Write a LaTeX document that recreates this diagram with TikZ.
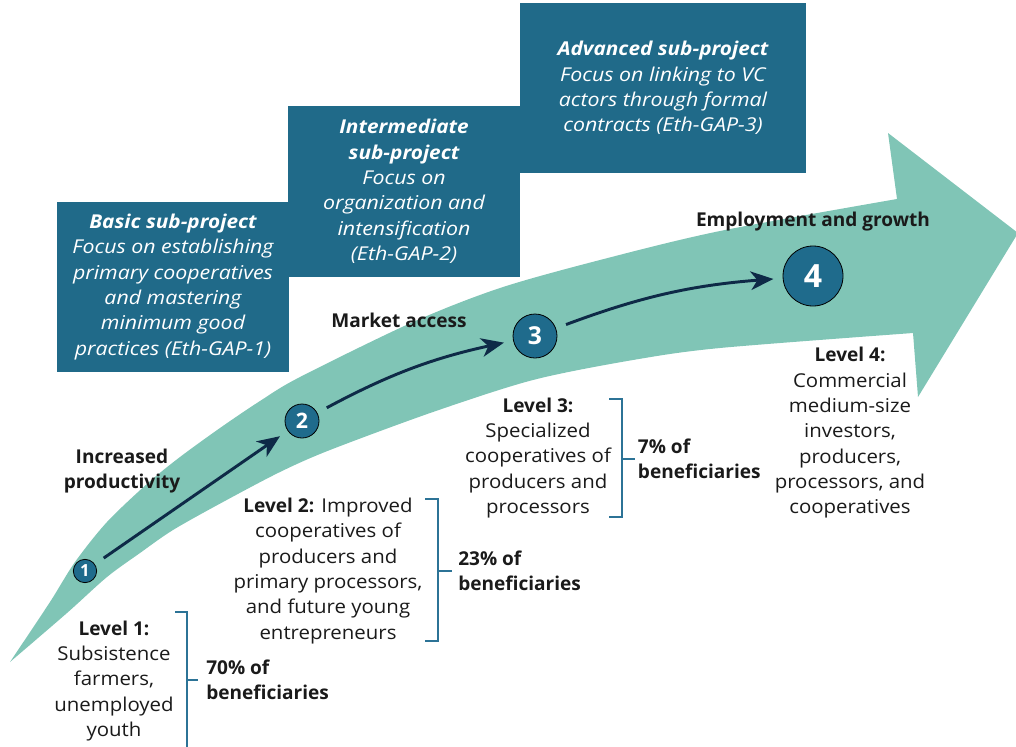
\documentclass[tikz,border=0pt]{standalone}
\usepackage{fontspec}
\setmainfont{Open Sans}[
    UprightFeatures={FakeStretch=1.07},
    ItalicFeatures={FakeStretch=1.12},
    BoldItalicFeatures={FakeStretch=1.09}]
\usetikzlibrary{arrows.meta, positioning}
\definecolor{bandteal}{HTML}{80C5B6}
\definecolor{boxblue}{HTML}{206A89}
\definecolor{stepblue}{HTML}{1F6B8C}
\definecolor{navy}{HTML}{0E2A47}
\definecolor{bracketblue}{HTML}{2C7396}
\definecolor{inkgray}{HTML}{1A1A1A}
\newcommand{\bodyfont}{\fontsize{14.3}{19}\selectfont}

\begin{document}
\begin{tikzpicture}[
    x=0.75pt, y=-0.75pt,
    subbox/.style={fill=boxblue, text=white, align=center, font=\bodyfont\itshape, inner sep=0pt},
    stepnode/.style={circle, draw=black, line width=0.6pt, fill=stepblue, text=white, inner sep=0pt},
    steparrow/.style={-{Stealth[length=17pt, width=14pt, inset=5pt]}, navy, line width=2.2pt, shorten <=8pt, shorten >=7pt},
    leveltext/.style={align=center, font=\bodyfont, text=inkgray, inner sep=0pt},
    pcttext/.style={align=left, font=\bodyfont\bfseries, text=inkgray, inner sep=0pt},
    stagelabel/.style={align=center, font=\bodyfont\bfseries, text=inkgray, inner sep=0pt},
    bracket/.style={bracketblue, line width=2.2pt},
]
    \useasboundingbox (0,0) rectangle (1016,746);

    % Curved band with arrow head
    \fill[bandteal] plot[smooth] coordinates {(10,662) (50,602) (75,562) (107,522) (148,483) (180,457) (220,428) (260,401) (300,377) (413,322) (500,288) (600,260) (720,231) (897,199)}
        -- (888,133) -- (1018,233) -- (918,397) -- (913,333)
        -- plot[smooth] coordinates {(913,333) (720,348) (633,360) (533,380) (433,412) (330,450) (280,472) (223,502) (173,530) (140,553) (107,577) (67,613) (10,662)} -- cycle;

    % Sub-project boxes
    \node[subbox, minimum width=174pt, minimum height=127.5pt] (basic) at (173,287)
        {\textbf{Basic sub-project}\\Focus on establishing\\primary cooperatives\\and mastering\\minimum good\\practices (Eth-GAP-1)};
    \node[subbox, minimum width=174pt, minimum height=128pt] (inter) at (404,191.5)
        {\textbf{Intermediate}\\\textbf{sub-project}\\Focus on\\organization and\\intensification\\(Eth-GAP-2)};
    \node[subbox, minimum width=214.5pt, minimum height=127.5pt] (adv) at (663,88)
        {\textbf{Advanced sub-project}\\Focus on linking to VC\\actors through formal\\contracts (Eth-GAP-3)};

    % Steps
    \node[stepnode, minimum size=17.5pt, font=\fontsize{12.5}{12.5}\selectfont\bfseries] (s1) at (85,571) {1};
    \node[stepnode, minimum size=25.5pt, font=\fontsize{16}{16}\selectfont\bfseries] (s2) at (302,421) {2};
    \node[stepnode, minimum size=33pt, font=\fontsize{18.5}{18.5}\selectfont\bfseries] (s3) at (535,336) {3};
    \node[stepnode, minimum size=45pt, font=\fontsize{24}{24}\selectfont\bfseries] (s4) at (813,276) {4};

    \draw[steparrow] (s1) -- (s2);
    \draw[steparrow] (s2) to[bend left=8] (s3);
    \draw[steparrow] (s3) to[bend left=8] (s4);

    % Stage labels
    \node[stagelabel] (prodlbl) at (122,471) {Increased\\productivity};
    \node[stagelabel] (marketlbl) at (399,320) {Market access};
    \node[stagelabel] (growthlbl) at (813,222) {Employment and growth};

    % Levels
    \node[leveltext] (lvl1) at (114,681) {\textbf{Level 1:}\\Subsistence\\farmers,\\unemployed\\youth};
    \node[leveltext] (lvl2) at (328,571) {\textbf{Level 2:} Improved\\cooperatives of\\producers and\\primary processors,\\and future young\\entrepreneurs};
    \node[leveltext] (lvl3) at (538,458) {\textbf{Level 3:}\\Specialized\\cooperatives of\\producers and\\processors};
    \node[leveltext] (lvl4) at (850,433) {\textbf{Level 4:}\\Commercial\\medium-size\\investors,\\producers,\\processors, and\\cooperatives};

    % Brackets
    \draw[bracket] (175,612) -- (187,612) -- (187,750);
    \draw[bracket] (187,680) -- (198,680) coordinate (b1);
    \draw[bracket] (425,499) -- (438,499) -- (438,641) -- (425,641);
    \draw[bracket] (438,571) -- (452,571) coordinate (b2);
    \draw[bracket] (609,399) -- (622,399) -- (622,517) -- (609,517);
    \draw[bracket] (622,459) -- (635,459) coordinate (b3);

    \node[pcttext, right=6pt of b1] (pct1) {70\% of\\beneficiaries};
    \node[pcttext, right=4.5pt of b2] (pct2) {23\% of\\beneficiaries};
    \node[pcttext, right=2pt of b3] (pct3) {7\% of\\beneficiaries};
\end{tikzpicture}
\end{document}
